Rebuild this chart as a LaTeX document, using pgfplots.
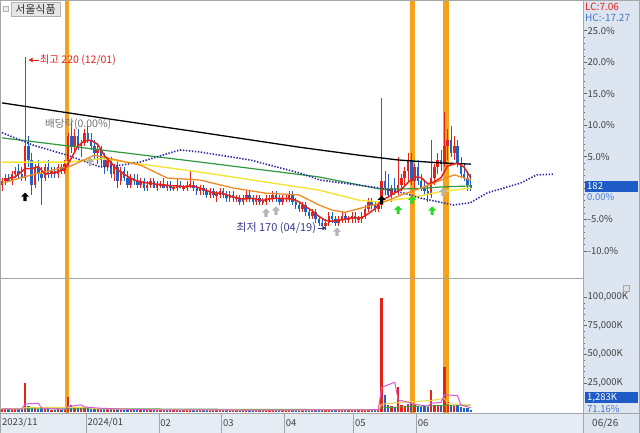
\documentclass[border=0pt]{standalone}
\usepackage{pgfplots}
\pgfplotsset{compat=1.18}
\usepackage{pgfplotstable}
\usepackage{fontspec}
\setmainfont{Noto Sans CJK KR}
\usetikzlibrary{arrows.meta}
\definecolor{upred}{HTML}{E5231B}
\definecolor{downblue}{HTML}{2160C4}
\definecolor{bandor}{HTML}{F7A21B}
\definecolor{magreen}{HTML}{2E9A3E}
\definecolor{mayellow}{HTML}{F2E635}
\definecolor{maorange}{HTML}{F08A24}
\definecolor{dotblue}{HTML}{2A2AA0}
\definecolor{rpanel}{HTML}{DCE5F0}
\definecolor{datebg}{HTML}{E6ECF3}
\definecolor{tagblue}{HTML}{1E5BC6}
\definecolor{tickgray}{HTML}{404040}
\definecolor{lowtext}{HTML}{3A3A90}
\definecolor{hctext}{HTML}{4A78C0}
\definecolor{vpink}{HTML}{D85AD0}
\definecolor{vyellow}{HTML}{E8D84A}
\definecolor{vgreen}{HTML}{49A049}
\definecolor{sigray}{HTML}{B4B4B4}
\definecolor{sigreen}{HTML}{22DD22}

\pgfdeclareplotmark{uparrow}{%
  \pgfpathmoveto{\pgfqpoint{0pt}{4.5pt}}%
  \pgfpathlineto{\pgfqpoint{4pt}{0.3pt}}%
  \pgfpathlineto{\pgfqpoint{1.6pt}{0.3pt}}%
  \pgfpathlineto{\pgfqpoint{1.6pt}{-4pt}}%
  \pgfpathlineto{\pgfqpoint{-1.6pt}{-4pt}}%
  \pgfpathlineto{\pgfqpoint{-1.6pt}{0.3pt}}%
  \pgfpathlineto{\pgfqpoint{-4pt}{0.3pt}}%
  \pgfpathclose
  \pgfusepathqfill}

\pgfplotstableread{
i o h l c v
0 183 185 181 184 2600
1 184 186 183 185 2300
2 185 186 184 184 2000
3 184 187 183 186 2400
4 186 188 185 187 2700
5 187 189 185 186 2200
6 186 188 184 185 2100
7 185 220 184 194 25000
8 194 197 188 190 4700
9 190 192 180 183 3600
10 183 189 182 188 3100
11 188 190 184 186 2500
12 186 188 177 185 2900
13 185 189 184 188 2300
14 188 190 185 186 2000
15 186 188 185 187 1900
16 187 188 185 186 1800
17 186 189 185 188 2100
18 188 189 186 187 1900
19 187 190 186 189 2400
20 189 198 188 197 13000
21 197 201 192 194 5700
22 194 199 192 197 4300
23 197 199 193 194 3500
24 194 196 191 195 3100
25 195 199 194 198 3900
26 198 200 195 196 3300
27 196 198 193 194 2800
28 194 196 190 192 2600
29 192 195 189 193 2400
30 193 194 188 190 2500
31 190 192 186 188 2300
32 188 191 187 190 2100
33 190 191 185 186 2400
34 186 189 184 188 2000
35 188 190 182 184 2200
36 184 188 183 187 1900
37 187 188 184 185 1800
38 185 187 182 183 2000
39 183 186 182 185 1700
40 185 186 183 184 1600
41 184 186 182 183 1800
42 183 185 182 184 1500
43 184 185 181 182 1700
44 182 184 181 183 1600
45 183 185 182 184 1500
46 184 185 182 182 1600
47 182 184 181 183 1400
48 183 184 182 183 1500
49 183 185 182 182 1600
50 182 184 181 183 1500
51 183 184 181 182 1400
52 182 183 181 182 1300
53 182 185 181 183 1700
54 183 184 182 182 1400
55 182 183 181 182 1300
56 182 184 181 183 1500
57 183 187 182 183 2600
58 183 184 181 182 1600
59 182 183 180 181 1500
60 181 183 180 182 1400
61 182 183 180 181 1500
62 181 182 179 180 1700
63 180 182 179 181 1400
64 181 182 179 180 1500
65 180 181 178 180 1600
66 180 182 179 181 1400
67 181 182 179 180 1300
68 180 181 178 179 1500
69 179 181 178 180 1400
70 180 181 178 179 1300
71 179 180 178 179 1200
72 179 180 177 178 1400
73 178 180 177 179 1300
74 179 181 178 180 1400
75 180 181 178 179 1300
76 179 180 177 178 1400
77 178 180 177 179 1200
78 179 180 177 178 1300
79 178 179 177 178 1200
80 178 180 177 179 1400
81 179 180 178 179 1300
82 179 181 178 180 1500
83 180 181 178 179 1300
84 179 180 177 178 1400
85 178 180 177 179 1300
86 179 180 178 179 1200
87 179 181 178 180 1400
88 180 181 177 178 1500
89 178 179 176 177 1600
90 177 178 175 176 1700
91 176 178 175 177 1500
92 177 178 174 175 1800
93 175 176 173 174 1700
94 174 176 173 175 1500
95 175 176 172 173 1800
96 173 174 171 172 1900
97 172 173 171 171 1700
98 171 173 170 172 2000
99 172 175 171 174 1800
100 174 175 172 173 1500
101 173 174 171 172 1600
102 172 174 171 173 1400
103 173 175 172 174 1500
104 174 175 172 173 1400
105 173 174 172 173 1300
106 173 175 172 174 1500
107 174 175 172 173 1400
108 173 174 172 173 1300
109 173 175 172 174 1500
110 174 177 173 176 2000
111 176 179 175 178 2300
112 178 179 176 177 1900
113 177 178 175 176 1700
114 176 178 175 177 1800
115 177 208 176 184 98800
116 184 187 180 182 14500
117 182 186 179 180 6000
118 180 183 178 182 5000
119 182 185 180 181 4200
120 181 191 180 183 21800
121 183 186 181 185 6200
122 185 188 183 187 5200
123 187 192 184 190 7000
124 190 192 183 184 8000
125 184 189 182 188 6000
126 188 190 183 184 5200
127 184 186 181 182 4300
128 182 184 180 181 4600
129 181 183 178 180 4000
130 180 196 179 185 18900
131 185 189 183 188 6200
132 188 192 186 190 5200
133 190 193 187 189 5600
134 189 204 188 194 38700
135 194 199 190 196 8200
136 196 200 191 192 6200
137 192 197 190 194 5100
138 194 196 188 189 5600
139 189 191 185 186 4100
140 186 189 184 185 3600
141 185 187 181 183 3000
142 183 186 181 182 1283
}\candles

\begin{document}
\begin{tikzpicture}[x=1pt,y=1pt]
\useasboundingbox (0,0) rectangle (640,433);
\fill[white] (0,0) rectangle (640,433);
\fill[rpanel] (583,0) rectangle (640,433);
\fill[datebg] (0,0) rectangle (583,20);

% ---------------- volume panel ----------------
\begin{axis}[at={(0pt,20pt)}, anchor=south west, scale only axis,
  width=583pt, height=135pt,
  xmin=-0.6, xmax=176, ymin=-1130, ymax=116600,
  axis line style={draw=gray!70}, xtick=\empty,
  ytick pos=right, yticklabel pos=right, scaled y ticks=false,
  ytick={25000,50000,75000,100000},
  yticklabels={{25,000K},{50,000K},{75,000K},{100,000K}},
  minor y tick num=4, tick align=outside,
  major tick length=4pt, minor tick length=2pt,
  tick style={draw=gray!80!black, line width=0.4pt},
  yticklabel style={font=\fontsize{9.5}{10}\selectfont, text=tickgray, anchor=west, inner sep=0.5pt}]
\addplot[bandor, line width=4.5pt, forget plot] coordinates {(19.7,-2000) (19.7,120000)};
\addplot[bandor, line width=5pt, forget plot] coordinates {(124.4,-2000) (124.4,120000)};
\addplot[bandor, line width=6pt, forget plot] coordinates {(134.6,-2000) (134.6,120000)};
\addplot[ycomb, draw=upred, line width=2.3pt, mark=none,
  restrict expr to domain={\thisrow{c}-\thisrow{o}}{0:100}] table[x=i, y=v] {\candles};
\addplot[ycomb, draw=downblue, line width=2.3pt, mark=none,
  restrict expr to domain={\thisrow{c}-\thisrow{o}}{-100:-0.5}] table[x=i, y=v] {\candles};
\addplot[vgreen, line width=0.9pt] coordinates {(0,2500)(40,2500)(80,2000)(114,1900)(115,3400)(125,4600)(135,5600)(142,5800)};
\addplot[vyellow, line width=1pt] coordinates {(0,2500)(6,2400)(7,3600)(26,3800)(27,2700)(40,2100)(60,1500)(90,1450)(114,1700)(115,6500)(120,8000)(130,9800)(134,11500)(135,7000)(142,5500)};
\addplot[vpink, line width=1pt] coordinates {(0,2400)(6,2300)(7,6800)(11,7300)(12,3100)(19,2100)(20,4400)(24,6000)(25,4100)(30,3000)(40,1900)(50,1500)(57,1700)(60,1600)(80,1350)(90,1500)(100,1700)(110,1600)(114,1900)(115,21300)(119,25700)(120,10300)(124,7500)(125,6400)(129,4800)(130,7400)(133,8000)(134,14800)(138,14000)(139,5800)(142,3500)};
\end{axis}

% ---------------- price panel ----------------
\begin{axis}[at={(0pt,155pt)}, anchor=south west, scale only axis,
  width=583pt, height=278pt,
  xmin=-0.6, xmax=176, ymin=155.99, ymax=236.34,
  axis line style={draw=gray!70}, xtick=\empty,
  ytick pos=right, yticklabel pos=right, scaled y ticks=false,
  ytick={163.8,172.9,182,191.1,200.2,209.3,218.4,227.5},
  yticklabels={-10.0\%,-5.0\%,,5.0\%,10.0\%,15.0\%,20.0\%,25.0\%},
  minor y tick num=4, tick align=outside,
  major tick length=4pt, minor tick length=2pt,
  tick style={draw=gray!80!black, line width=0.4pt},
  yticklabel style={font=\fontsize{9.5}{10}\selectfont, text=tickgray, anchor=west, inner sep=0.5pt}]

% orange event bands
\addplot[bandor, line width=4.5pt, forget plot] coordinates {(19.7,150) (19.7,240)};
\addplot[bandor, line width=5pt, forget plot] coordinates {(124.4,150) (124.4,240)};
\addplot[bandor, line width=6pt, forget plot] coordinates {(134.6,150) (134.6,240)};

% candles: wicks
\addplot[draw=none, mark=none, forget plot,
  restrict expr to domain={\thisrow{c}-\thisrow{o}}{0:100},
  error bars/.cd, y dir=both, y explicit, error mark=none,
  error bar style={draw=upred, line width=0.7pt}]
  table[x=i, y expr={(\thisrow{h}+\thisrow{l})/2}, y error expr={(\thisrow{h}-\thisrow{l})/2}] {\candles};
\addplot[draw=none, mark=none, forget plot,
  restrict expr to domain={\thisrow{c}-\thisrow{o}}{-100:-0.5},
  error bars/.cd, y dir=both, y explicit, error mark=none,
  error bar style={draw=downblue, line width=0.7pt}]
  table[x=i, y expr={(\thisrow{h}+\thisrow{l})/2}, y error expr={(\thisrow{h}-\thisrow{l})/2}] {\candles};
% candles: bodies
\addplot[draw=none, mark=none, forget plot,
  restrict expr to domain={\thisrow{c}-\thisrow{o}}{0:100},
  error bars/.cd, y dir=both, y explicit, error mark=none,
  error bar style={draw=upred, line width=2.5pt}]
  table[x=i, y expr={(\thisrow{o}+\thisrow{c})/2}, y error expr={max(abs(\thisrow{c}-\thisrow{o})/2,0.2)}] {\candles};
\addplot[draw=none, mark=none, forget plot,
  restrict expr to domain={\thisrow{c}-\thisrow{o}}{-100:-0.5},
  error bars/.cd, y dir=both, y explicit, error mark=none,
  error bar style={draw=downblue, line width=2.5pt}]
  table[x=i, y expr={(\thisrow{o}+\thisrow{c})/2}, y error expr={max(abs(\thisrow{c}-\thisrow{o})/2,0.2)}] {\candles};

% moving averages
\addplot[black, line width=1.3pt] coordinates {(0,206.6)(30,202.3)(60,198.1)(90,193.8)(108,191.5)(120,190.1)(132,189.3)(142,188.9)};
\addplot[magreen, line width=1.2pt] coordinates {(0,196.5)(30,193.0)(60,189.5)(96,185.2)(115,181.6)(125,181.8)(133,182.3)(142,182.6)};
\addplot[mayellow, line width=1.4pt] coordinates {(0,189.5)(20,189.5)(30,190.5)(60,186.6)(96,181.4)(108,178.5)(114,178)(124,179.2)(132,180.8)(142,182)};
\addplot[dotblue, line width=1.6pt, dash pattern=on 1.4pt off 1.6pt] coordinates {(0,198)(9.4,194.4)(19.7,191.5)(29.7,188.1)(32.7,188.1)(41.8,189.5)(53.9,193)(60,192.4)(75.2,190.1)(90.3,186.3)(96.4,184.3)(114.5,182)(121.5,180.6)(126.7,179.1)(136.7,177.1)(141.8,177.7)(147,180.6)(157,183.4)(162,185.8)(167,186)};
\addplot[maorange, line width=1.3pt] coordinates {(0,183.4)(9,185.8)(18,187.8)(20,188)(28,191.5)(42,188.6)(50,184.9)(60,184.3)(70,182)(80,180.5)(90,180)(96,177.1)(100,175.6)(104,175)(110,176.5)(115,177.7)(121,180)(127,182)(133,184.3)(137,185.8)(142,184.3)};
\addplot[upred, line width=1.5pt] coordinates {(2,184.8)(4,185.2)(7,187.6)(9,187.6)(11,188.2)(13,186)(16,186.4)(19,187.4)(21,190.6)(23,194.2)(25,195.6)(27,195.8)(29,194.6)(31,191.4)(33,189.4)(35,187.2)(37,186)(39,184.8)(41,184)(43,183.6)(46,183.2)(50,182.8)(55,182.4)(58,182.6)(61,181.6)(64,180.6)(67,180.4)(70,179.4)(73,178.8)(76,179)(79,178.4)(82,179)(85,179)(88,178.8)(90,178)(92,176.6)(94,175.4)(96,173.8)(98,172.6)(100,172.4)(103,172.8)(106,173.4)(109,173.4)(111,174.6)(113,176)(115,178.4)(117,179.4)(119,180.6)(121,181.6)(123,183.6)(125,185.2)(127,185)(129,183.2)(131,183.8)(133,185)(135,188.4)(138,189.2)(140,188)(142,184.9)};

% signal arrows
\addplot[only marks, mark=uparrow, black] coordinates {(7,179.4)(115,178.5)};
\addplot[only marks, mark=uparrow, sigray] coordinates {(26.7,189.5)(80,174.8)(83,175.4)(101.5,169.3)(133.6,180.8)};
\addplot[only marks, mark=uparrow, sigreen] coordinates {(120,175.6)(124.2,178.5)(130.3,175.4)};

% annotations
\draw[-{Latex[length=4.5pt,width=5pt]}, upred, line width=0.9pt] (axis cs:11.2,219) -- (axis cs:7.9,219);
\node[anchor=west, text=upred, font=\fontsize{10.5}{11}\selectfont, inner sep=0pt] at (axis cs:11.4,219) {최고 220 (12/01)};
\node[anchor=east, text=lowtext, font=\fontsize{11}{12}\selectfont, inner sep=0pt] at (axis cs:95.2,170.4) {최저 170 (04/19)};
\draw[-{Latex[length=4.5pt,width=5pt]}, lowtext, line width=0.9pt] (axis cs:95.6,170.4) -- (axis cs:98.4,170.4);
\node[anchor=west, text=gray!90!black, font=\fontsize{10.5}{11}\selectfont, inner sep=0pt] at (axis cs:13,200.5) {배당락(0.00\%)};
\end{axis}

% ---------------- date strip ----------------
\begin{axis}[at={(0pt,0pt)}, anchor=south west, scale only axis,
  width=583pt, height=20pt,
  xmin=-0.6, xmax=176, ymin=0, ymax=1,
  axis line style={draw=gray!70}, ytick=\empty,
  xtick={25.5,47.5,66.5,85.5,106.5,125.5}, xticklabels={},
  major tick length=0pt, xmajorgrids, grid style={draw=gray!70, line width=0.5pt}]
\node[anchor=west, text=tickgray, font=\fontsize{9.5}{10}\selectfont, inner sep=1pt] at (axis cs:-0.3,0.5) {2023/11};
\node[anchor=west, text=tickgray, font=\fontsize{9.5}{10}\selectfont, inner sep=1pt] at (axis cs:25.6,0.5) {2024/01};
\node[anchor=west, text=tickgray, font=\fontsize{9.5}{10}\selectfont, inner sep=1pt] at (axis cs:47.6,0.5) {02};
\node[anchor=west, text=tickgray, font=\fontsize{9.5}{10}\selectfont, inner sep=1pt] at (axis cs:66.6,0.5) {03};
\node[anchor=west, text=tickgray, font=\fontsize{9.5}{10}\selectfont, inner sep=1pt] at (axis cs:85.6,0.5) {04};
\node[anchor=west, text=tickgray, font=\fontsize{9.5}{10}\selectfont, inner sep=1pt] at (axis cs:106.6,0.5) {05};
\node[anchor=west, text=tickgray, font=\fontsize{9.5}{10}\selectfont, inner sep=1pt] at (axis cs:125.6,0.5) {06};
\end{axis}

% ---------------- right panel texts & frame ----------------
\draw[gray!70] (583,0) -- (583,433);
\draw[gray!70] (583,20) -- (640,20);
\node[anchor=west, text=tickgray, font=\fontsize{10}{11}\selectfont, inner sep=1pt] at (591,10) {06/26};
\node[anchor=west, text=upred, font=\fontsize{10}{11}\selectfont, inner sep=0pt] at (585,426) {LC:7.06};
\node[anchor=west, text=hctext, font=\fontsize{10}{11}\selectfont, inner sep=0pt] at (585,415.5) {HC:-17.27};
\fill[tagblue] (585,241) rectangle (638,252);
\node[anchor=west, text=white, font=\fontsize{9.5}{10}\selectfont, inner sep=0pt] at (587,246.5) {182};
\node[anchor=west, text=tagblue!80, font=\fontsize{9.5}{10}\selectfont, inner sep=0pt] at (587,236) {0.00\%};
\fill[tagblue] (585,30) rectangle (638,41);
\node[anchor=west, text=white, font=\fontsize{9.5}{10}\selectfont, inner sep=0pt] at (587,35.5) {1,283K};
\node[anchor=west, text=hctext, font=\fontsize{9.5}{10}\selectfont, inner sep=0pt] at (587,23.5) {71.16\%};
\draw[gray!70, fill=gray!25] (623,142) rectangle (629,148);
% title box
\draw[gray!60, fill=gray!15] (3,422) rectangle (8,427);
\draw[gray!60, fill=gray!20] (11,417) rectangle (60,431);
\node[text=black!80, font=\fontsize{11}{12}\selectfont, inner sep=0pt] at (35.5,424) {서울식품};
\draw[gray!70] (0.5,0) rectangle (639.5,432.5);
\end{tikzpicture}
\end{document}
